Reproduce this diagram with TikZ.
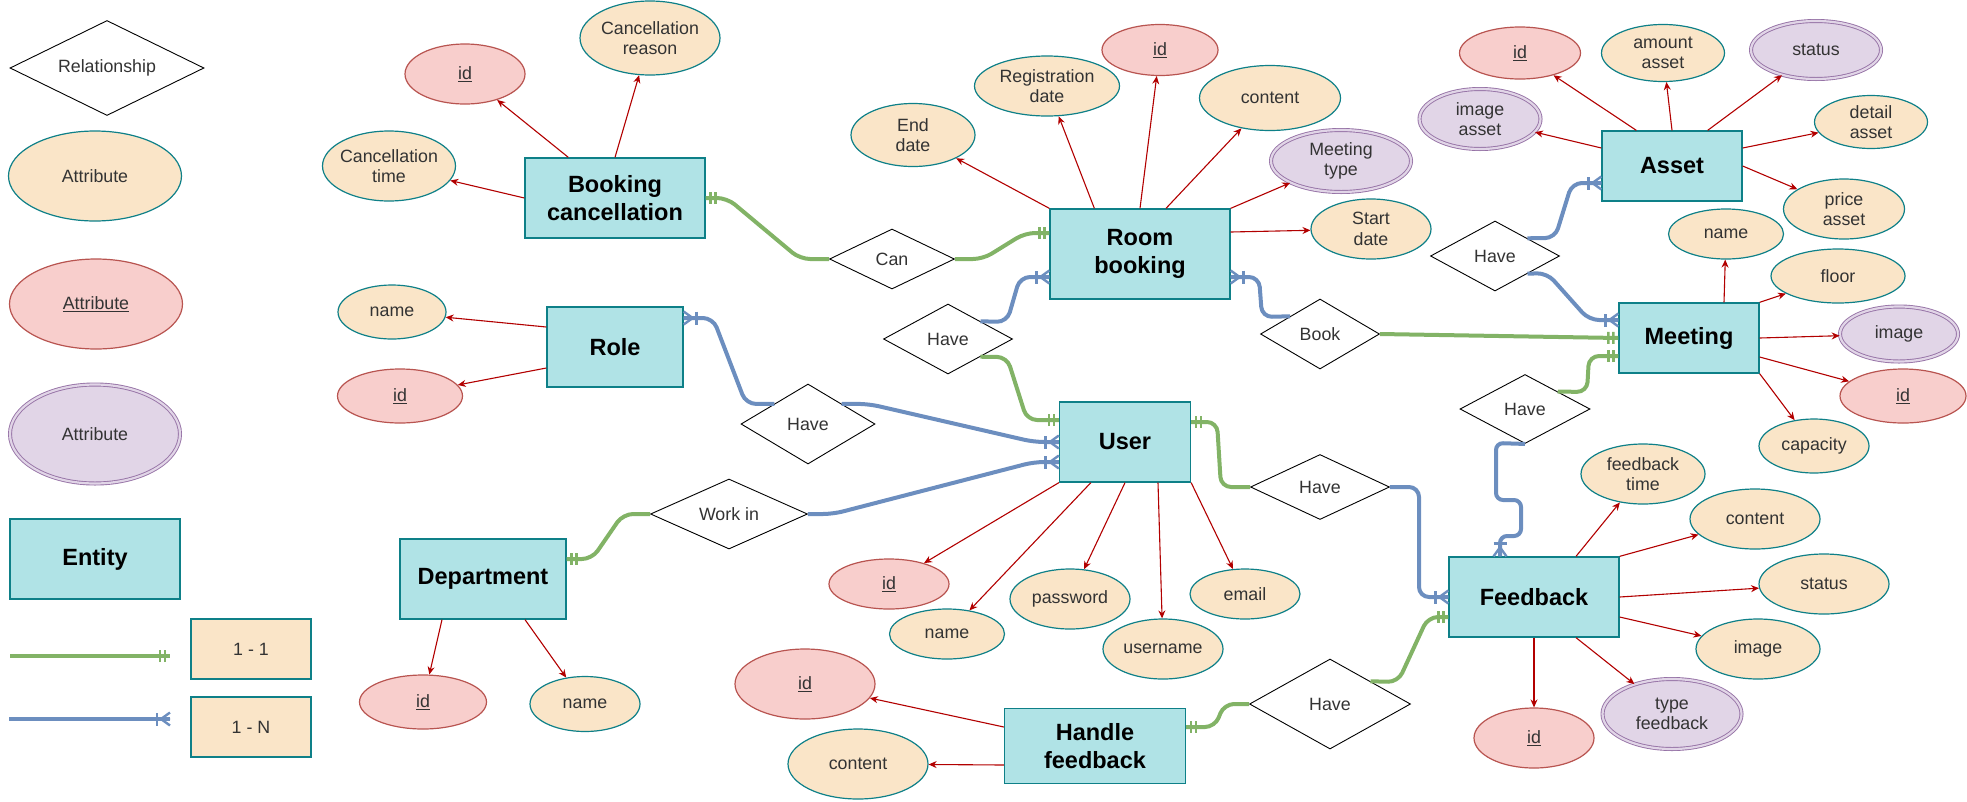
\documentclass[tikz,border=0pt]{standalone}
\usepackage{fontspec}
\setmainfont{Liberation Sans}
\usetikzlibrary{shapes.geometric,arrows.meta,decorations.markings}
\definecolor{tealS}{HTML}{0E8088}
\definecolor{entF}{HTML}{B0E3E6}
\definecolor{orangeF}{HTML}{FAE5C8}
\definecolor{redF}{HTML}{F8CECC}
\definecolor{redS}{HTML}{B85450}
\definecolor{purpleF}{HTML}{E1D5E7}
\definecolor{purpleS}{HTML}{9673A6}
\definecolor{greenC}{HTML}{82B366}
\definecolor{blueC}{HTML}{6C8EBF}
\definecolor{arrowR}{HTML}{B20000}
\definecolor{txt}{HTML}{333333}
\newcommand\attrfont{\fontsize{17.8}{20.5}\selectfont}
\newcommand\entfont{\fontsize{23.5}{28}\selectfont\bfseries}
\newcommand\attrnode[6]{\node[#1, minimum width=#4pt, minimum height=#5pt, label={[lbl]center:{#6}}] (#2) at (#3) {};}
\newcommand\relnode[5]{\node[relbox, minimum width=#3pt, minimum height=#4pt, label={[lbl]center:{#5}}] (#1) at (#2) {};}
\begin{document}
\begin{tikzpicture}[x=1pt,y=-1pt,
  lbl/.style={font=\attrfont, text=txt, align=center, inner sep=0pt},
  attrO/.style={ellipse, draw=tealS, fill=orangeF, line width=1.2pt, inner sep=0pt},
  attrR/.style={ellipse, draw=redS, fill=redF, line width=1.2pt, inner sep=0pt},
  attrP/.style={ellipse, draw=purpleS, double=purpleF, double distance=2.2pt, line width=0.9pt, fill=purpleF, inner sep=0pt},
  relbox/.style={diamond, draw=black, fill=white, line width=0.9pt, inner sep=0pt},
  entbox/.style={rectangle, draw=tealS, fill=entF, line width=1.3pt, font=\entfont, align=center, inner sep=0pt},
  cardbox/.style={rectangle, draw=tealS, fill=orangeF, line width=1.2pt, font=\attrfont, text=txt, inner sep=0pt, minimum width=120pt, minimum height=60pt},
  attrarrow/.style={draw=arrowR, line width=1.1pt, -{Stealth[length=8pt,width=7pt]}},
  oneone/.style={draw=greenC, line width=4pt, rounded corners=10pt, postaction={decorate},
    decoration={markings, mark=at position 1 with {\draw[greenC, line width=2.5pt, rounded corners=0pt] (-5pt,-6pt) -- (-5pt,6pt) (-10pt,-6pt) -- (-10pt,6pt);}}},
  onemany/.style={draw=blueC, line width=4pt, rounded corners=10pt, postaction={decorate},
    decoration={markings, mark=at position 1 with {\draw[blueC, line width=2.8pt, rounded corners=0pt] (-13pt,-6.5pt) -- (-13pt,6.5pt); \draw[blueC, line width=2.4pt, rounded corners=0pt] (0pt,6.5pt) -- (-9pt,0pt) -- (0pt,-6.5pt) (0pt,0pt) -- (-9pt,0pt);}}}
]
\useasboundingbox (0,0) rectangle (1967,801);

% ---------- legend ----------
\relnode{lrel}{107,68}{194}{95}{Relationship}
\attrnode{attrO}{latt}{95,176}{173}{90}{Attribute}
\attrnode{attrR}{lkey}{96,304}{173}{90}{\underline{Attribute}}
\attrnode{attrP}{lmul}{95,434}{170}{99}{Attribute}
\node[entbox, minimum width=170pt, minimum height=80pt] (lent) at (95,559) {Entity};
\node[cardbox] (l11) at (251,649) {1 - 1};
\node[cardbox] (l1n) at (251,727) {1 - N};
\coordinate (lg1) at (10,656); \coordinate (lg2) at (170,656);
\coordinate (lb1) at (9,719); \coordinate (lb2) at (170,719);
\draw[oneone] (lg1) -- (lg2);
\draw[onemany] (lb1) -- (lb2);

% ---------- entities ----------
\node[entbox, minimum width=180pt, minimum height=80pt] (bc) at (615,198) {Booking\\cancellation};
\node[entbox, minimum width=136pt, minimum height=80pt] (role) at (615,347) {Role};
\node[entbox, minimum width=180pt, minimum height=90pt] (rb) at (1140,254) {Room\\booking};
\node[entbox, minimum width=140pt, minimum height=70pt] (asset) at (1672,166) {Asset};
\node[entbox, minimum width=140pt, minimum height=70pt] (mtg) at (1689,338) {Meeting};
\node[entbox, minimum width=170pt, minimum height=80pt] (fb) at (1534,597) {Feedback};
\node[entbox, minimum width=131pt, minimum height=80pt] (user) at (1125,442) {User};
\node[entbox, minimum width=181pt, minimum height=75pt] (hf) at (1095,746) {Handle\\feedback};
\node[entbox, minimum width=166pt, minimum height=80pt] (dept) at (483,579) {Department};

% ---------- relationships ----------
\relnode{can}{892,259}{125}{60}{Can}
\relnode{have1}{948,339}{129}{70}{Have}
\relnode{book}{1320,334}{119}{70}{Book}
\relnode{have2}{1495,256}{129}{70}{Have}
\relnode{have3}{1525,409}{130}{69}{Have}
\relnode{have4}{1320,487}{139}{65}{Have}
\relnode{have5}{1330,704}{161}{90}{Have}
\relnode{have6}{808,424}{134}{80}{Have}
\relnode{workin}{729,514}{157}{70}{Work in}

% ---------- attributes ----------
\attrnode{attrR}{bcid}{465,74}{120}{60}{\underline{id}}
\attrnode{attrO}{bcreason}{650,38}{140}{74}{Cancellation\\reason}
\attrnode{attrO}{bctime}{389,166}{133}{70}{Cancellation\\time}
\attrnode{attrO}{rname}{392,312}{108}{54}{name}
\attrnode{attrR}{rid}{400,396}{125}{54}{\underline{id}}
\attrnode{attrO}{enddate}{913,135}{124}{63}{End\\date}
\attrnode{attrO}{regdate}{1047,86}{145}{60}{Registration\\date}
\attrnode{attrR}{rbid}{1160,50}{116}{51}{\underline{id}}
\attrnode{attrO}{rbcontent}{1270,98}{141}{65}{content}
\attrnode{attrP}{mtype}{1341,161}{140}{62}{Meeting\\type}
\attrnode{attrO}{sdate}{1371,229}{120}{60}{Start\\date}
\attrnode{attrR}{aid}{1520,53}{121}{52}{\underline{id}}
\attrnode{attrO}{amount}{1663,53}{123}{57}{amount\\asset}
\attrnode{attrP}{astatus}{1816,50}{130}{58}{status}
\attrnode{attrP}{aimage}{1480,119}{121}{60}{image\\asset}
\attrnode{attrO}{adetail}{1871,122}{113}{53}{detail\\asset}
\attrnode{attrO}{aprice}{1844,209}{121}{60}{price\\asset}
\attrnode{attrO}{mname}{1726,234}{115}{50}{name}
\attrnode{attrO}{mfloor}{1838,276}{134}{54}{floor}
\attrnode{attrP}{mimage}{1899,334}{118}{55}{image}
\attrnode{attrR}{mid}{1903,396}{126}{54}{\underline{id}}
\attrnode{attrO}{mcap}{1814,446}{110}{54}{capacity}
\attrnode{attrO}{fbtime}{1643,474}{124}{60}{feedback\\time}
\attrnode{attrO}{fbcontent}{1755,519}{130}{60}{content}
\attrnode{attrO}{fbstatus}{1824,584}{130}{60}{status}
\attrnode{attrO}{fbimage}{1758,649}{124}{60}{image}
\attrnode{attrP}{fbtype}{1672,714}{139}{70}{type\\feedback}
\attrnode{attrR}{fbid}{1534,738}{120}{60}{\underline{id}}
\attrnode{attrR}{uid}{889,584}{120}{50}{\underline{id}}
\attrnode{attrO}{uname}{947,634}{115}{50}{name}
\attrnode{attrO}{upass}{1070,599}{120}{60}{password}
\attrnode{attrO}{uusername}{1163,649}{120}{60}{username}
\attrnode{attrO}{uemail}{1245,594}{110}{50}{email}
\attrnode{attrR}{hid}{805,684}{140}{70}{\underline{id}}
\attrnode{attrO}{hcontent}{858,764}{140}{70}{content}
\attrnode{attrR}{did}{423,702}{127}{54}{\underline{id}}
\attrnode{attrO}{dname}{585,704}{110}{55}{name}

% ---------- attribute arrows ----------
\draw[attrarrow] ([xshift=44pt]bc.north west) -- (bcid);
\draw[attrarrow] (bc.north) -- (bcreason);
\draw[attrarrow] (bc.west) -- (bctime);
\draw[attrarrow] ([yshift=20pt]role.west) -- (rname);
\draw[attrarrow] ([yshift=-21pt]role.west) -- (rid);
\draw[attrarrow] (rb.north west) -- (enddate);
\draw[attrarrow] ([xshift=45pt]rb.north west) -- (regdate);
\draw[attrarrow] (rb.north) -- (rbid);
\draw[attrarrow] ([xshift=26pt]rb.north) -- (rbcontent);
\draw[attrarrow] (rb.north east) -- (mtype);
\draw[attrarrow] ([yshift=22pt]rb.east) -- (sdate);
\draw[attrarrow] ([xshift=35pt]asset.north west) -- (aid);
\draw[attrarrow] (asset.north) -- (amount);
\draw[attrarrow] ([xshift=-35pt]asset.north east) -- (astatus);
\draw[attrarrow] ([yshift=18pt]asset.west) -- (aimage);
\draw[attrarrow] ([yshift=18pt]asset.east) -- (adetail);
\draw[attrarrow] (asset.east) -- (aprice);
\draw[attrarrow] ([xshift=35pt]mtg.north) -- (mname);
\draw[attrarrow] (mtg.north east) -- (mfloor);
\draw[attrarrow] (mtg.east) -- (mimage);
\draw[attrarrow] ([yshift=-19pt]mtg.east) -- (mid);
\draw[attrarrow] (mtg.south east) -- (mcap);
\draw[attrarrow] ([xshift=42pt]fb.north) -- (fbtime);
\draw[attrarrow] (fb.north east) -- (fbcontent);
\draw[attrarrow] (fb.east) -- (fbstatus);
\draw[attrarrow] ([yshift=-20pt]fb.east) -- (fbimage);
\draw[attrarrow] ([xshift=42pt]fb.south) -- (fbtype);
\draw[attrarrow] (fb.south) -- (fbid);
\draw[attrarrow] (user.south west) -- (uid);
\draw[attrarrow] ([xshift=32pt]user.south west) -- (uname);
\draw[attrarrow] (user.south) -- (upass);
\draw[attrarrow] ([xshift=33pt]user.south) -- (uusername);
\draw[attrarrow] (user.south east) -- (uemail);
\draw[attrarrow] ([yshift=19pt]hf.west) -- (hid);
\draw[attrarrow] ([yshift=-19pt]hf.west) -- (hcontent);
\draw[attrarrow] ([xshift=-41pt]dept.south) -- (did);
\draw[attrarrow] ([xshift=42pt]dept.south) -- (dname);

% ---------- relationship connectors ----------
\draw[oneone] (can.west) -- (800,259) -- (727,198) -- (bc.east);
\draw[oneone] (can.east) -- (983,259) -- (1025,233) -- ([yshift=21pt]rb.west);
\draw[onemany] (have1.north east) -- (1007,322) -- (1020,277) -- ([yshift=-23pt]rb.west);
\draw[oneone] (have1.south east) -- (1007,357) -- (1027,420) -- ([yshift=22pt]user.west);
\draw[onemany] (book.north west) -- (1262,317) -- (1259,277) -- ([yshift=-23pt]rb.east);
\draw[oneone] (book.east) -- (mtg.west);
\draw[onemany] (have2.north east) -- (1555,238) -- (1572,183) -- ([yshift=-17pt]asset.west);
\draw[onemany] (have2.south east) -- (1547,273) -- (1589,320) -- ([yshift=18pt]mtg.west);
\draw[oneone] (have3.north east) -- (1587,392) -- (1589,356) -- ([yshift=-18pt]mtg.west);
\draw[onemany, rounded corners=7pt] (have3.south) -- (1496,443) -- (1496,500) -- (1521,500) -- (1521,536) -- (1500,536) -- ([xshift=-34pt]fb.north);
\draw[oneone] (have4.west) -- (1221,487) -- (1217,422) -- ([yshift=20pt]user.east);
\draw[onemany] (have4.east) -- (1419,487) -- (1419,597) -- (fb.west);
\draw[oneone] (have5.west) -- (1224,704) -- (1215,727) -- ([yshift=19pt]hf.east);
\draw[oneone] (have5.north east) -- (1398,682) -- (1428,617) -- ([yshift=-20pt]fb.west);
\draw[onemany] (have6.north west) -- (746,404) -- (713,318) -- ([yshift=29pt]role.east);
\draw[onemany] (have6.north east) -- (869,404) -- (1034,442) -- (user.west);
\draw[onemany] (workin.east) -- (833,514) -- (1034,462) -- ([yshift=-20pt]user.west);
\draw[oneone] (workin.west) -- (623,514) -- (592,559) -- ([yshift=20pt]dept.east);
\end{tikzpicture}
\end{document}
